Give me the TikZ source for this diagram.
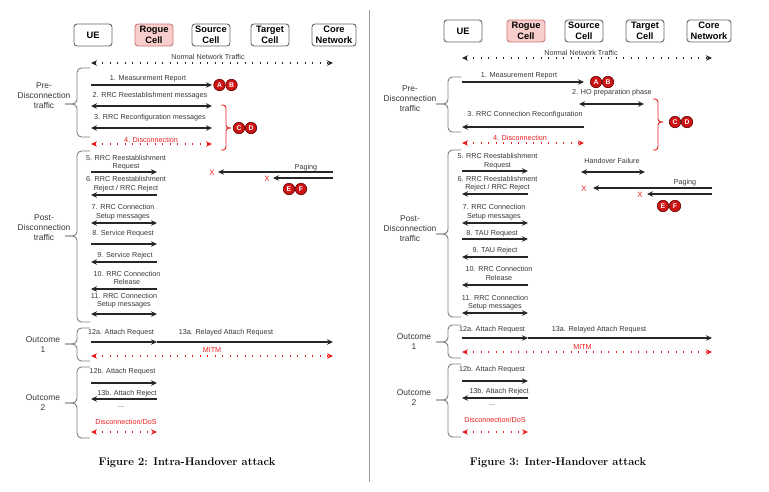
\documentclass[tikz,border=0pt]{standalone}
\usepackage{fontspec}
\setsansfont{Liberation Sans}
\usetikzlibrary{arrows.meta}
\definecolor{rogfill}{RGB}{248,206,204}
\definecolor{rogline}{RGB}{205,120,120}
\definecolor{attred}{RGB}{232,30,30}
\definecolor{badgefill}{RGB}{205,20,20}
\definecolor{badgeline}{RGB}{100,0,0}
\definecolor{txtgray}{RGB}{55,55,55}
\definecolor{bracegray}{RGB}{125,125,125}
\newcommand\labfont{\sffamily\fontsize{7.2}{8.5}\selectfont}
\newcommand\arr[5]{\coordinate (#5a) at (#2,#4); \coordinate (#5b) at (#3,#4); \draw[#1] (#5a) -- (#5b);}
\newcommand\leftbr[4]{% x vertical, top, bottom, tip y
  \draw[brace] (#1+13,#2) -- (#1,#2) -- (#1,#4) -- (#1-12,#4);
  \draw[brace] (#1+13,#3) -- (#1,#3) -- (#1,#4) -- (#1-12,#4);}
\newcommand\rightbr[4]{%
  \draw[rbrace] (#1-5,#2) -- (#1,#2) -- (#1,#4) -- (#1+5,#4);
  \draw[rbrace] (#1-5,#3) -- (#1,#3) -- (#1,#4) -- (#1+5,#4);}
\tikzset{
  actor/.style={draw=black!60, line width=0.9pt, rounded corners=3pt, minimum width=38pt,
    minimum height=22pt, inner sep=1pt, align=center,
    font=\sffamily\bfseries\fontsize{9.3}{10.5}\selectfont},
  rogue/.style={actor, fill=rogfill, draw=rogline},
  lbl/.style={font=\labfont, text=txtgray, align=center, inner sep=0pt},
  rlbl/.style={lbl, text=attred},
  side/.style={font=\sffamily\fontsize{8.4}{10}\selectfont, text=txtgray, align=center, inner sep=0pt},
  tipS/.tip={Stealth[length=6pt,width=5.5pt]},
  msg/.style={line width=1.2pt, black!85, -tipS},
  dmsg/.style={line width=1.2pt, black!85, tipS-tipS},
  ndots/.style={line width=1.1pt, black!85, dash pattern=on 1.2pt off 6.3pt, tipS-tipS},
  rdots/.style={line width=1.1pt, attred, dash pattern=on 1.2pt off 6.3pt, tipS-tipS},
  brace/.style={draw=bracegray, line width=0.9pt, rounded corners=4.5pt},
  rbrace/.style={draw=attred, line width=0.9pt, rounded corners=3pt},
  badge/.style={circle, fill=badgefill, draw=badgeline, line width=0.6pt, minimum size=11.5pt,
    inner sep=0pt, text=white, font=\sffamily\bfseries\fontsize{6.8}{7}\selectfont},
  xmark/.style={text=attred, font=\sffamily\fontsize{7.8}{8}\selectfont, inner sep=0pt},
  caption/.style={font=\bfseries\fontsize{11.1}{13}\selectfont, inner sep=0pt}
}
\begin{document}
\begin{tikzpicture}[x=1pt,y=-1pt]
\useasboundingbox (0,0) rectangle (769,491);
\draw[black!40, line width=0.9pt] (369.5,10) coordinate (sepa) -- (369.5,482) coordinate (sepb);

% ================= LEFT: Figure 2 =================
\node[actor] (ue1) at (93,35) {UE};
\node[rogue] (rg1) at (154,35) {Rogue\\Cell};
\node[actor] (src1) at (211,35) {Source\\Cell};
\node[actor] (tgt1) at (270,35) {Target\\Cell};
\node[actor, minimum width=44pt] (core1) at (334,35) {Core\\Network};

\node[lbl] (nl1) at (208,57) {Normal Network Traffic};
\arr{ndots}{91}{333}{63}{n1}

\leftbr{77}{68}{137}{104}
\node[side] (pre1) at (44,96) {Pre-\\Disconnection\\traffic};

\node[lbl] (m1l) at (148,79) {1. Measurement Report};
\arr{msg}{91}{212}{85}{m1}
\node[badge] (bA1) at (219.5,85) {A};
\node[badge] (bB1) at (231.5,85) {B};

\node[lbl] (m2l) at (150,96) {2. RRC Reestablishment messages};
\arr{dmsg}{91}{212}{106}{m2}
\node[lbl] (m3l) at (150,118) {3. RRC Reconfiguration messages};
\arr{dmsg}{91}{212}{128}{m3}
\node[rlbl] (m4l) at (151,140) {4. Disconnection};
\arr{rdots}{91}{212}{144}{m4}
\rightbr{226}{105}{150}{128}
\node[badge] (bC1) at (239,128) {C};
\node[badge] (bD1) at (251,128) {D};

\leftbr{77}{151}{322}{236}
\node[side] (post1) at (44,228) {Post-\\Disconnection\\traffic};

\node[lbl] (m5l) at (126,162.5) {5. RRC Reestablishment\\Request};
\arr{msg}{91}{157}{172}{m5}
\node[lbl] (m6l) at (126,184) {6. RRC Reestablishment\\Reject / RRC Reject};
\arr{msg}{157}{91}{195}{m6}
\node[lbl] (m7l) at (123,212) {7. RRC Connection\\Setup messages};
\arr{dmsg}{91}{157}{223}{m7}
\node[lbl] (m8l) at (123,234) {8. Service Request};
\arr{msg}{91}{157}{244}{m8}
\node[lbl] (m9l) at (125,256) {9. Service Reject};
\arr{msg}{157}{91}{262}{m9}
\node[lbl] (m10l) at (127,278) {10. RRC Connection\\Release};
\arr{msg}{157}{91}{289}{m10}
\node[lbl] (m11l) at (124,300.5) {11. RRC Connection\\Setup messages};
\arr{dmsg}{91}{157}{314}{m11}

\node[lbl] (pgl1) at (306,168) {Paging};
\node[xmark] (x1a) at (212,173) {X};
\node[xmark] (x1b) at (267,178.5) {X};
\coordinate (pg1a) at (333,172); \coordinate (pg1b) at (333,178);
\draw[msg] (pg1a) -- (218,172) coordinate (pg1d);
\draw[msg] (pg1b) -- (273,178) coordinate (pg1c);
\node[badge] (bE1) at (289,189) {E};
\node[badge] (bF1) at (301,189) {F};

\leftbr{77}{328}{361}{344}
\node[side] (oc11) at (43,344.5) {Outcome\\1};
\node[lbl] (a12l) at (121,333) {12a. Attach Request};
\arr{msg}{91}{157}{342}{a12}
\node[lbl] (a13l) at (226,333) {13a. Relayed Attach Request};
\draw[msg] (a12b) -- (333,342) coordinate (a13b);
\node[rlbl] (mitm1) at (212,350) {MITM};
\arr{rdots}{91}{333}{356}{mi1}

\leftbr{77}{367}{438}{403}
\node[side] (oc21) at (43,403) {Outcome\\2};
\node[lbl] (b12l) at (122.5,372) {12b. Attach Request};
\arr{msg}{91}{157}{383}{b12}
\node[lbl] (b13l) at (127,394) {13b. Attach Reject};
\arr{msg}{157}{91}{399}{b13}
\node[lbl] (dots1) at (121,407) {...};
\node[rlbl] (dos1) at (126,422) {Disconnection/DoS};
\arr{rdots}{91}{157}{432}{ds1}

\node[caption] (cap1) at (187,463) {Figure 2: Intra-Handover attack};

% ================= RIGHT: Figure 3 =================
\node[actor] (ue2) at (463,31) {UE};
\node[rogue] (rg2) at (526,31) {Rogue\\Cell};
\node[actor] (src2) at (584,31) {Source\\Cell};
\node[actor] (tgt2) at (645,31) {Target\\Cell};
\node[actor, minimum width=44pt] (core2) at (709,31) {Core\\Network};

\node[lbl] (nl2) at (581,53) {Normal Network Traffic};
\arr{ndots}{462}{712}{58}{n2}

\leftbr{448}{77}{132}{104}
\node[side] (pre2) at (410,99) {Pre-\\Disconnection\\traffic};

\node[lbl] (r1l) at (519,76) {1. Measurement Report};
\arr{msg}{462}{584}{82}{r1}
\node[badge] (bA2) at (596,82) {A};
\node[badge] (bB2) at (608,82) {B};
\node[lbl] (r2l) at (612,93) {2. HO preparation phase};
\arr{dmsg}{579}{644}{104}{r2}
\node[lbl] (r3l) at (525,115) {3. RRC Connection Reconfiguration};
\arr{msg}{584}{462}{127}{r3}
\node[rlbl] (r4l) at (520,138) {4. Disconnection};
\arr{rdots}{462}{584}{143}{r4}
\rightbr{658}{99}{150}{122}
\node[badge] (bC2) at (675,122) {C};
\node[badge] (bD2) at (687,122) {D};

\leftbr{448}{150}{317}{234}
\node[side] (post2) at (410,229) {Post-\\Disconnection\\traffic};

\node[lbl] (r5l) at (497.5,161) {5. RRC Reestablishment\\Request};
\arr{msg}{462}{528}{171}{r5}
\node[lbl] (hfl) at (612,161) {Handover Failure};
\arr{dmsg}{581}{645}{172}{hf}
\node[lbl] (r6l) at (497.5,183.5) {6. RRC Reestablishment\\Reject / RRC Reject};
\arr{msg}{528}{462}{194}{r6}

\node[lbl] (pgl2) at (685,183) {Paging};
\node[xmark] (x2a) at (584,188.5) {X};
\node[xmark] (x2b) at (640,195) {X};
\coordinate (pg2a) at (712,188); \coordinate (pg2b) at (712,194);
\draw[msg] (pg2a) -- (593,188) coordinate (pg2c);
\draw[msg] (pg2b) -- (647,194) coordinate (pg2d);
\node[badge] (bE2) at (663,206) {E};
\node[badge] (bF2) at (675,206) {F};

\node[lbl] (r7l) at (494,212) {7. RRC Connection\\Setup messages};
\arr{dmsg}{462}{528}{223}{r7}
\node[lbl] (r8l) at (492,234) {8. TAU Request};
\arr{msg}{462}{528}{239}{r8}
\node[lbl] (r9l) at (495,251) {9. TAU Reject};
\arr{msg}{528}{462}{257}{r9}
\node[lbl] (r10l) at (499,273.5) {10. RRC Connection\\Release};
\arr{msg}{528}{462}{285}{r10}
\node[lbl] (r11l) at (495,302.5) {11. RRC Connection\\Setup messages};
\arr{dmsg}{462}{528}{313}{r11}

\leftbr{448}{325}{358}{342}
\node[side] (oc12) at (414,342) {Outcome\\1};
\node[lbl] (c12l) at (492,330) {12a. Attach Request};
\arr{msg}{462}{528}{338}{c12}
\node[lbl] (c13l) at (599,330) {13a. Relayed Attach Request};
\draw[msg] (c12b) -- (712,338) coordinate (c13b);
\node[rlbl] (mitm2) at (582.5,347) {MITM};
\arr{rdots}{462}{712}{352}{mi2}

\leftbr{448}{364}{437}{400}
\node[side] (oc22) at (414,398) {Outcome\\2};
\node[lbl] (d12l) at (492,370) {12b. Attach Request};
\arr{msg}{462}{528}{381}{d12}
\node[lbl] (d13l) at (499,392) {13b. Attach Reject};
\arr{msg}{528}{462}{398}{d13}
\node[lbl] (dots2) at (492,405) {...};
\node[rlbl] (dos2) at (495,420) {Disconnection/DoS};
\arr{rdots}{462}{528}{432}{ds2}

\node[caption] (cap2) at (558,463) {Figure 3: Inter-Handover attack};
\end{tikzpicture}
\end{document}
